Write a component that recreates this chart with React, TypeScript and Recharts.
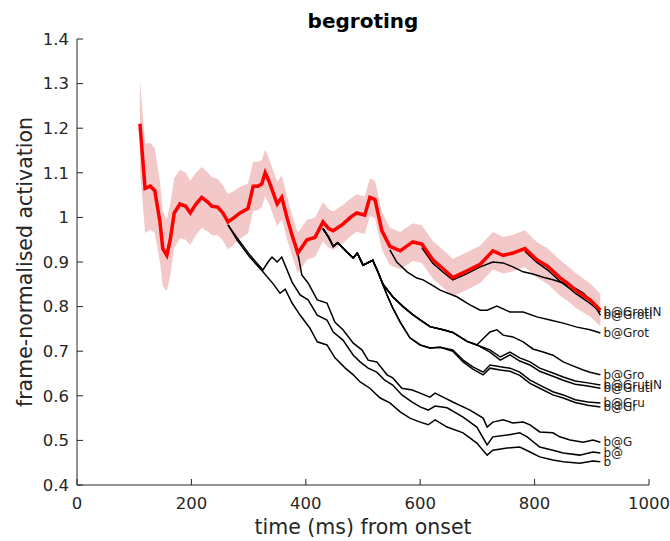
import React from "react"
import { Area, ComposedChart, Line, XAxis, YAxis } from "recharts"

const xTicks = [0, 200, 400, 600, 800, 1000]
const yTicks = [0.4, 0.5, 0.6, 0.7, 0.8, 0.9, 1.0, 1.1, 1.2, 1.3, 1.4]

// target word (red) with its error band
const redT = [
  110, 119, 128, 136, 145, 150, 157, 163, 170, 180,
  190, 198, 208, 218, 228, 236, 246, 255, 264, 275,
  285, 299, 308, 316, 323, 329, 336, 343, 350, 358,
  367, 376, 386, 394, 402, 416, 430, 440, 448, 465,
  478, 489, 503, 512, 521, 533, 547, 565, 587, 603,
  622, 640, 657, 682, 705, 727, 745, 762, 783, 804,
  823, 844, 860, 871, 885, 897, 915,
]
const redV = [
  1.21, 1.065, 1.07, 1.06, 0.99, 0.93, 0.915, 0.95, 1.01, 1.03,
  1.025, 1.01, 1.03, 1.045, 1.035, 1.025, 1.023, 1.01, 0.99, 1.0,
  1.01, 1.02, 1.07, 1.07, 1.075, 1.1, 1.08, 1.055, 1.03, 1.045,
  1.0, 0.96, 0.92, 0.935, 0.95, 0.955, 0.99, 0.975, 0.97, 0.985,
  1.0, 1.01, 1.005, 1.045, 1.04, 0.97, 0.935, 0.925, 0.945, 0.94,
  0.905, 0.885, 0.865, 0.88, 0.895, 0.925, 0.915, 0.92, 0.93, 0.905,
  0.89, 0.865, 0.85, 0.837, 0.825, 0.815, 0.792,
]
const redErr = [
  0.1, 0.1, 0.097, 0.095, 0.09, 0.085, 0.08, 0.08, 0.078, 0.077,
  0.075, 0.072, 0.07, 0.068, 0.066, 0.065, 0.063, 0.062, 0.062, 0.06,
  0.058, 0.056, 0.055, 0.054, 0.053, 0.052, 0.05, 0.05, 0.05, 0.049,
  0.048, 0.046, 0.045, 0.045, 0.045, 0.044, 0.044, 0.043, 0.043, 0.043,
  0.042, 0.042, 0.042, 0.042, 0.042, 0.042, 0.042, 0.042, 0.042, 0.042,
  0.042, 0.042, 0.042, 0.042, 0.042, 0.042, 0.041, 0.041, 0.041, 0.04,
  0.04, 0.04, 0.039, 0.039, 0.038, 0.037, 0.036,
]

// prefix competitors (black)
const bT = [264, 280, 302, 325, 343, 355, 364, 376, 390, 407, 420, 437, 451, 469, 483, 495, 512, 530, 547, 565, 582, 600, 614, 626, 647, 675, 699, 717, 727, 752, 774, 792, 809, 832, 850, 879, 902, 915]
const bV = [0.983, 0.949, 0.911, 0.878, 0.851, 0.83, 0.839, 0.808, 0.781, 0.752, 0.721, 0.714, 0.685, 0.662, 0.647, 0.631, 0.617, 0.595, 0.584, 0.564, 0.55, 0.541, 0.535, 0.546, 0.53, 0.517, 0.494, 0.467, 0.478, 0.483, 0.485, 0.474, 0.463, 0.456, 0.452, 0.449, 0.454, 0.452]

const bAtT = [264, 280, 302, 325, 334, 341, 350, 358, 376, 390, 404, 420, 437, 448, 465, 483, 495, 509, 524, 538, 552, 568, 586, 600, 614, 626, 647, 675, 699, 717, 727, 752, 774, 787, 809, 832, 850, 879, 902, 915]
const bAtV = [0.983, 0.954, 0.916, 0.882, 0.9, 0.911, 0.9, 0.911, 0.855, 0.826, 0.815, 0.781, 0.77, 0.743, 0.725, 0.691, 0.676, 0.662, 0.653, 0.635, 0.624, 0.602, 0.586, 0.575, 0.568, 0.577, 0.573, 0.552, 0.53, 0.49, 0.508, 0.512, 0.517, 0.508, 0.485, 0.478, 0.472, 0.467, 0.474, 0.472]

const bAtGT = [386, 393, 404, 420, 437, 451, 465, 483, 498, 509, 524, 542, 552, 568, 586, 600, 617, 626, 640, 657, 687, 710, 717, 727, 745, 762, 780, 792, 809, 832, 844, 862, 885, 902, 915]
const bAtGV = [0.92, 0.871, 0.853, 0.815, 0.808, 0.765, 0.748, 0.718, 0.703, 0.68, 0.676, 0.647, 0.64, 0.617, 0.613, 0.606, 0.597, 0.606, 0.597, 0.586, 0.568, 0.55, 0.53, 0.541, 0.546, 0.539, 0.541, 0.535, 0.519, 0.517, 0.508, 0.501, 0.496, 0.501, 0.496]

// the b@Gr... family leaves the target at ~430 ms
const grSharedT = [430, 440, 448, 456, 472, 483, 490, 500, 517, 526]
const grSharedV = [0.975, 0.955, 0.935, 0.943, 0.922, 0.909, 0.92, 0.893, 0.904, 0.878]

const grLowT = [542, 552, 565, 582, 600, 617, 635]
const grLowV = [0.826, 0.797, 0.765, 0.73, 0.714, 0.707, 0.709]
const gruTailT = [657, 675, 692, 710, 722, 740, 757, 774, 792, 809, 832, 850, 871, 893, 915]
const gruTailV = [0.703, 0.68, 0.665, 0.653, 0.669, 0.665, 0.662, 0.653, 0.635, 0.624, 0.609, 0.602, 0.591, 0.586, 0.584]
const grTailV = [0.7, 0.676, 0.66, 0.647, 0.662, 0.658, 0.655, 0.646, 0.628, 0.617, 0.602, 0.595, 0.585, 0.579, 0.575]

const grHighT = [535, 552, 570, 587, 600, 617, 640, 657, 682, 699]
const grHighV = [0.85, 0.822, 0.8, 0.782, 0.77, 0.755, 0.748, 0.742, 0.722, 0.714]
const groTailT = [722, 734, 745, 762, 780, 797, 815, 832, 850, 867, 885, 897, 915]
const groTailV = [0.743, 0.748, 0.736, 0.732, 0.721, 0.705, 0.698, 0.691, 0.676, 0.667, 0.658, 0.653, 0.647]
const grutTailT = [722, 740, 757, 774, 792, 809, 832, 850, 871, 893, 915]
const grutINTailV = [0.703, 0.687, 0.698, 0.685, 0.676, 0.662, 0.651, 0.642, 0.633, 0.629, 0.624]
const grutITailV = [0.698, 0.68, 0.692, 0.678, 0.669, 0.655, 0.644, 0.635, 0.626, 0.622, 0.617]

const grotT = [547, 559, 577, 594, 605, 617, 635, 664, 687, 705, 717, 734, 757, 780, 804, 827, 850, 874, 897, 915]
const grotV = [0.927, 0.9, 0.878, 0.864, 0.86, 0.851, 0.837, 0.822, 0.804, 0.792, 0.792, 0.801, 0.788, 0.788, 0.777, 0.77, 0.763, 0.754, 0.748, 0.741]

const grotIT = [603, 622, 640, 657, 682, 705, 727, 745, 762, 780, 797, 815, 832, 850, 867, 885, 897, 906, 915]
const grotIV = [0.932, 0.897, 0.877, 0.86, 0.874, 0.889, 0.9, 0.898, 0.889, 0.878, 0.873, 0.866, 0.86, 0.853, 0.844, 0.83, 0.815, 0.8, 0.781]

const grotINT = [783, 804, 823, 844, 860, 871, 885, 897, 915]
const grotINV = [0.924, 0.899, 0.882, 0.857, 0.842, 0.83, 0.818, 0.807, 0.788]

type Pt = { t: number; v: number }
const zip = (ts: number[], vs: number[]): Pt[] => ts.map((t, i) => ({ t, v: vs[i] }))

const redRows = redT.map((t, i) => ({
  t,
  v: redV[i],
  band: [redV[i] - redErr[i], redV[i] + redErr[i]],
}))

const competitors: { name: string; rows: Pt[] }[] = [
  { name: "b", rows: zip(bT, bV) },
  { name: "b@", rows: zip(bAtT, bAtV) },
  { name: "b@G", rows: zip(bAtGT, bAtGV) },
  { name: "b@Gr", rows: zip([...grSharedT, ...grLowT, ...gruTailT], [...grSharedV, ...grLowV, ...grTailV]) },
  { name: "b@Gru", rows: zip([...grSharedT, ...grLowT, ...gruTailT], [...grSharedV, ...grLowV, ...gruTailV]) },
  { name: "b@GrutI", rows: zip([...grSharedT, ...grHighT, ...grutTailT], [...grSharedV, ...grHighV, ...grutITailV]) },
  { name: "b@GrutIN", rows: zip([...grSharedT, ...grHighT, ...grutTailT], [...grSharedV, ...grHighV, ...grutINTailV]) },
  { name: "b@Gro", rows: zip([...grSharedT, ...grHighT, ...groTailT], [...grSharedV, ...grHighV, ...groTailV]) },
  { name: "b@Grot", rows: zip(grotT, grotV) },
  { name: "b@GrotI", rows: zip(grotIT, grotIV) },
  { name: "b@GrotIN", rows: zip(grotINT, grotINV) },
]

const FONT = "DejaVu Sans"
const AXIS = "#262626"

// ticks drawn inward, MATLAB style
const XTick = (p: any) => (
  <g>
    <line x1={p.x} x2={p.x} y1={p.y} y2={p.y - 6} stroke={AXIS} />
    <text x={p.x} y={p.y + 18} dy="0.35em" textAnchor="middle" fontSize={16.5} fontFamily={FONT} fill={AXIS}>
      {p.payload.value}
    </text>
  </g>
)

const YTick = (p: any) => (
  <g>
    <line x1={p.x} x2={p.x + 6} y1={p.y} y2={p.y} stroke={AXIS} />
    <text x={p.x - 8} y={p.y} dy="0.35em" textAnchor="end" fontSize={16.5} fontFamily={FONT} fill={AXIS}>
      {String(Number(p.payload.value.toFixed(1)))}
    </text>
  </g>
)

const endLabel = (name: string, last: number) => (p: any) =>
  p.index === last ? (
    <text key={`${name}-lab`} x={p.cx + 3} y={p.cy} dy="0.35em" fontSize={12} fontFamily={FONT} fill="#222">
      {name}
    </text>
  ) : (
    <g key={`${name}-${p.index}`} />
  )

export default function App() {
  return (
    <div style={{ position: "absolute", left: 0, top: 0, width: 670, height: 541, background: "#fff" }}>
      <ComposedChart width={670} height={541} data={redRows} margin={{ top: 39, right: 21, bottom: 26, left: 37 }}>
        <XAxis
          type="number"
          dataKey="t"
          domain={[0, 1000]}
          ticks={xTicks}
          interval={0}
          height={30}
          tickSize={0}
          tickMargin={0}
          tickLine={false}
          axisLine={{ stroke: AXIS }}
          tick={<XTick />}
        />
        <YAxis
          type="number"
          domain={[0.4, 1.4]}
          ticks={yTicks}
          interval={0}
          width={40}
          tickSize={0}
          tickMargin={0}
          tickLine={false}
          axisLine={{ stroke: AXIS }}
          tick={<YTick />}
        />
        <Area type="linear" dataKey="band" stroke="none" fill="#f3c8c8" fillOpacity={1} isAnimationActive={false} />
        {competitors.map(c => (
          <Line
            key={c.name}
            data={c.rows}
            dataKey="v"
            type="linear"
            stroke="#000"
            strokeWidth={1.5}
            dot={endLabel(c.name, c.rows.length - 1)}
            activeDot={false}
            isAnimationActive={false}
          />
        ))}
        <Line type="linear" dataKey="v" stroke="#ff0000" strokeWidth={3.5} dot={false} activeDot={false} isAnimationActive={false} />
      </ComposedChart>
      <svg width={670} height={541} style={{ position: "absolute", left: 0, top: 0, pointerEvents: "none" }}>
        <text x={363} y={21} dy="0.35em" textAnchor="middle" fontSize={20} fontWeight="bold" fontFamily={FONT} fill="#000">
          begroting
        </text>
        <text x={363} y={527} dy="0.35em" textAnchor="middle" fontSize={20.5} fontFamily={FONT} fill={AXIS}>
          time (ms) from onset
        </text>
        <text
          x={25}
          y={262}
          dy="0.35em"
          textAnchor="middle"
          fontSize={20.5}
          fontFamily={FONT}
          fill={AXIS}
          transform="rotate(-90 25 262)"
        >
          frame-normalised activation
        </text>
      </svg>
    </div>
  )
}
